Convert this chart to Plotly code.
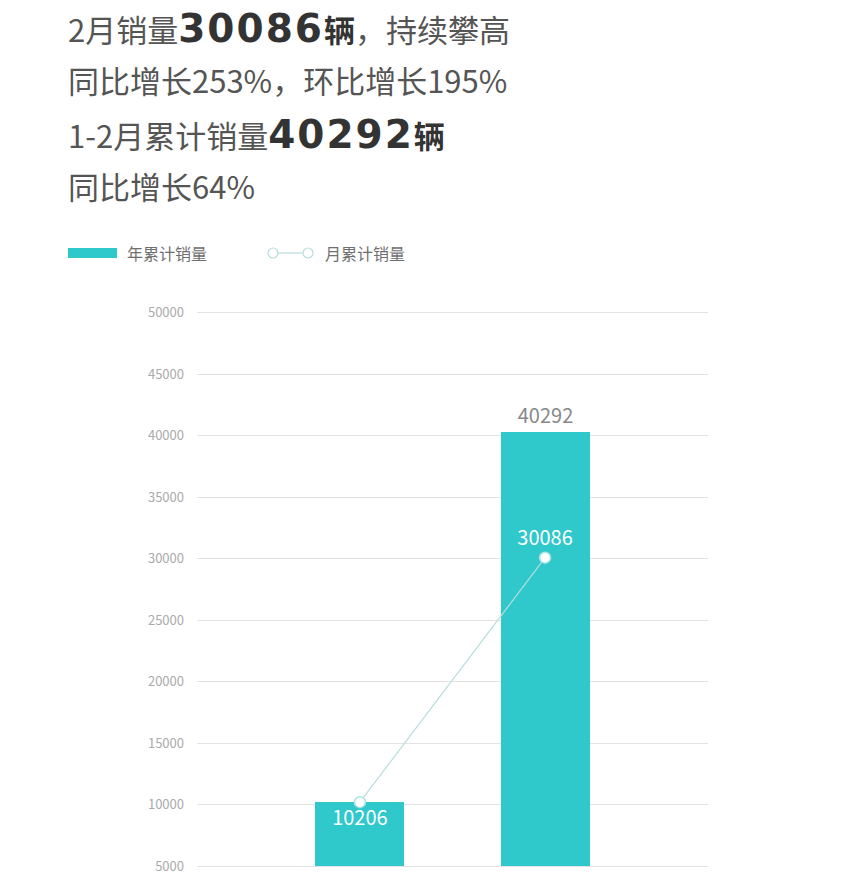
import plotly.graph_objects as go

# 数据
months = ["1月", "2月"]
year_cum = [10206, 40292]      # 年累计销量
month_cum = [10206, 30086]     # 月累计销量
bar_labels = ["", "40292"]     # 1月柱标签与折线标签重合, 不重复显示
line_pos = ["bottom center", "top center"]
y_ticks = [5000, 10000, 15000, 20000, 25000, 30000, 35000, 40000, 45000, 50000]

TEAL = "#2fc8cb"
FONT = "Noto Sans CJK SC"

W, H = 852, 876
PAD = 150  # y 轴两端稍加余量, 让 5000/50000 网格线可见
k = (866 - 313) / 45000
L = 197
R = W - 708
T = int(round(313 - PAD * k))
B = H - int(round(866 + PAD * k))


def px_x(px):
    return (px - L) / (W - L - R)


def px_y(py):
    return (H - B - py) / (H - T - B)


fig = go.Figure()

fig.add_trace(go.Bar(
    x=months, y=[v - 5000 for v in year_cum], base=5000, width=0.48,
    marker=dict(color=TEAL, line=dict(width=0)),
    text=bar_labels, textposition="outside",
    textfont=dict(size=20, color="#888888", family=FONT),
    cliponaxis=False, name="年累计销量", showlegend=False,
))

fig.add_trace(go.Scatter(
    x=months, y=month_cum, mode="lines+markers+text",
    line=dict(color="#b9dcdc", width=1.2),
    marker=dict(size=11, color="white", line=dict(color="#a6e3e3", width=1.5)),
    text=[str(v) for v in month_cum], textposition=line_pos,
    textfont=dict(size=20, color="white", family=FONT),
    cliponaxis=False, name="月累计销量", showlegend=False,
))

# 顶部文字
reg = "color:#555555"
bold = "color:#333333"
big = f"font-family:DejaVu Sans;font-size:39px;letter-spacing:2px;{bold}"
lines = [
    f"<span style='{reg}'>2月销量</span><b><span style='{big}'>30086</span>"
    f"<span style='{bold}'>辆</span></b><span style='{reg}'>，持续攀高</span>",
    f"<span style='{reg}'>同比增长253%，环比增长195%</span>",
    f"<span style='{reg}'>1-2月累计销量</span><b><span style='{big}'>40292</span>"
    f"<span style='{bold}'>辆</span></b>",
    f"<span style='{reg}'>同比增长64%</span>",
]
line_y = [28, 79, 134, 186]
annotations = []
for txt, yy in zip(lines, line_y):
    annotations.append(dict(
        text=txt, xref="paper", yref="paper", x=px_x(66), y=px_y(yy),
        xanchor="left", yanchor="middle", showarrow=False,
        font=dict(size=31, family=FONT, color="#555555"),
    ))

# 自定义图例
shapes = [
    dict(type="rect", xref="paper", yref="paper",
         x0=px_x(68), x1=px_x(117), y0=px_y(258), y1=px_y(248),
         fillcolor=TEAL, line=dict(width=0)),
    dict(type="line", xref="paper", yref="paper",
         x0=px_x(278), x1=px_x(303), y0=px_y(253), y1=px_y(253),
         line=dict(color="#b9dcdc", width=1.2)),
    dict(type="circle", xref="paper", yref="paper",
         x0=px_x(268), x1=px_x(278), y0=px_y(258), y1=px_y(248),
         fillcolor="white", line=dict(color="#b9dcdc", width=1.2)),
    dict(type="circle", xref="paper", yref="paper",
         x0=px_x(303), x1=px_x(313), y0=px_y(258), y1=px_y(248),
         fillcolor="white", line=dict(color="#b9dcdc", width=1.2)),
]
for label, xx in [("年累计销量", 125), ("月累计销量", 323)]:
    annotations.append(dict(
        text=label, xref="paper", yref="paper", x=px_x(xx), y=px_y(253),
        xanchor="left", yanchor="middle", showarrow=False,
        font=dict(size=16, family=FONT, color="#6f6f6f"),
    ))

fig.update_layout(
    width=W, height=H,
    margin=dict(l=L, r=R, t=T, b=B, autoexpand=False),
    paper_bgcolor="white", plot_bgcolor="white",
    font=dict(family=FONT),
    showlegend=False,
    annotations=annotations,
    shapes=shapes,
    bargap=0,
)
fig.update_xaxes(range=[-0.88, 1.88], showticklabels=False, showgrid=False,
                 zeroline=False, showline=False, ticks="", automargin=False)
fig.update_yaxes(range=[5000 - PAD, 50000 + PAD], tickvals=y_ticks,
                 ticktext=[str(v) for v in y_ticks],
                 tickfont=dict(size=13, color="#aaaaaa", family=FONT),
                 gridcolor="#e3e3e3", gridwidth=1, zeroline=False,
                 showline=False, ticks="", ticklabelstandoff=12,
                 ticklabeloverflow="allow", automargin=False)

# 去掉页面默认 8px 外边距, 让图与窗口对齐
fig.write_html("out.html",
               config={"displayModeBar": False},
               post_script="document.body.style.margin='0';"
                           "document.body.style.overflow='hidden';")
